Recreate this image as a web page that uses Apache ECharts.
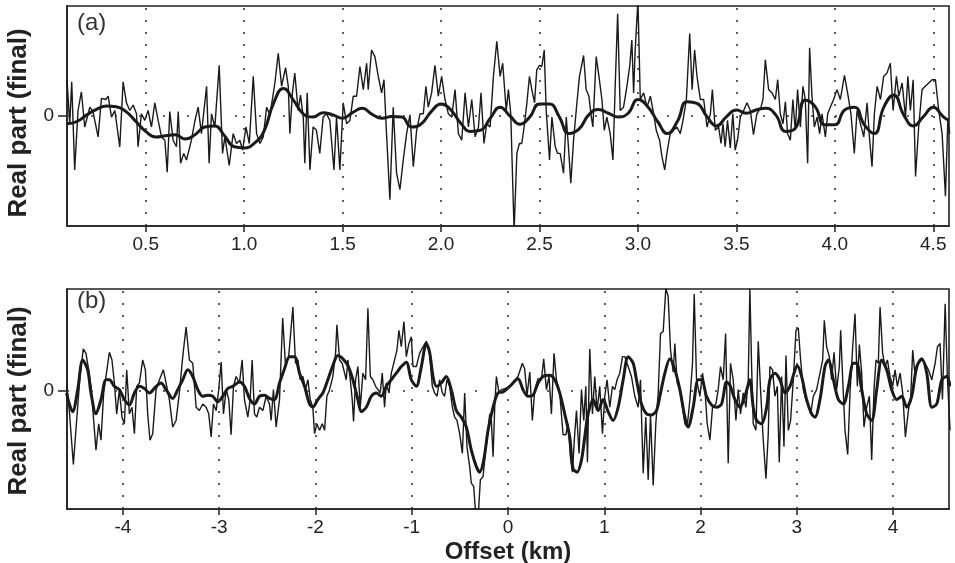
<!DOCTYPE html>
<html>
<head>
<meta charset="utf-8">
<script src="https://cdn.jsdelivr.net/npm/echarts@6/dist/echarts.min.js"></script>
<style>
  html, body { margin: 0; padding: 0; background: #fff; }
  #main { width: 955px; height: 563px; }
</style>
</head>
<body>
<div id="main"></div>
<script>
// tick labels
const topTicks = [0.5, 1.0, 1.5, 2.0, 2.5, 3.0, 3.5, 4.0, 4.5]
const botTicks = [-4, -3, -2, -1, 0, 1, 2, 3, 4]

// (a) thin line: [offset km, value]
const topThin = [
  [0.100,0.33],[0.114,-0.07],[0.124,0.31],[0.139,-0.49],[0.156,0.05],[0.173,0.22],[0.190,-0.10],[0.216,0.08],[0.232,0.04],[0.258,-0.19],
  [0.275,0.16],[0.297,0.15],[0.309,0.18],[0.326,-0.01],[0.343,0.05],[0.368,-0.28],[0.385,0.31],[0.402,0.12],[0.419,0.05],[0.436,0.10],
  [0.453,0.02],[0.461,-0.28],[0.478,0.02],[0.495,-0.04],[0.512,0.05],[0.529,-0.10],[0.546,0.12],[0.563,-0.04],[0.580,-0.19],[0.597,-0.22],
  [0.609,-0.51],[0.622,0.04],[0.639,-0.22],[0.656,-0.28],[0.665,0.04],[0.677,-0.43],[0.693,-0.34],[0.707,-0.40],[0.732,-0.22],[0.749,-0.05],
  [0.766,0.08],[0.783,-0.16],[0.809,0.27],[0.822,-0.43],[0.834,0.02],[0.851,-0.10],[0.873,0.46],[0.890,-0.34],[0.902,-0.19],[0.924,-0.45],
  [0.944,-0.16],[0.961,-0.25],[0.978,-0.22],[0.992,-0.31],[1.009,-0.10],[1.026,-0.25],[1.046,0.36],[1.063,-0.16],[1.080,-0.25],[1.097,-0.19],
  [1.114,0.08],[1.131,0.01],[1.156,0.30],[1.173,0.57],[1.190,0.27],[1.210,0.44],[1.224,0.27],[1.232,-0.16],[1.245,0.21],[1.257,0.39],
  [1.274,0.05],[1.286,0.19],[1.300,-0.01],[1.308,-0.43],[1.320,0.21],[1.334,-0.49],[1.350,-0.10],[1.367,-0.13],[1.384,-0.34],[1.401,-0.01],
  [1.418,0.02],[1.435,-0.04],[1.456,-0.49],[1.469,-0.01],[1.486,-0.49],[1.503,0.12],[1.520,-0.07],[1.537,-0.04],[1.554,0.18],[1.571,0.18],
  [1.588,0.45],[1.605,0.24],[1.622,0.48],[1.630,0.24],[1.647,0.60],[1.664,0.54],[1.681,0.36],[1.698,0.21],[1.710,0.33],[1.723,-0.16],
  [1.740,-0.76],[1.757,0.08],[1.774,-0.52],[1.791,-0.67],[1.808,-0.40],[1.825,-0.16],[1.842,0.01],[1.859,-0.46],[1.876,-0.13],[1.893,0.02],
  [1.910,0.02],[1.923,0.27],[1.935,0.08],[1.952,0.21],[1.969,0.46],[1.986,0.18],[2.003,0.36],[2.020,0.15],[2.037,0.02],[2.054,-0.01],
  [2.071,0.24],[2.088,-0.16],[2.105,-0.22],[2.122,0.21],[2.139,-0.10],[2.156,0.15],[2.173,-0.19],[2.190,-0.10],[2.203,0.21],[2.218,-0.25],
  [2.232,-0.07],[2.249,-0.10],[2.266,0.36],[2.283,0.68],[2.300,0.36],[2.313,0.48],[2.331,0.05],[2.342,0.24],[2.354,0.02],[2.371,-1.05],
  [2.385,-0.34],[2.398,-0.25],[2.410,-0.25],[2.422,-0.10],[2.436,0.12],[2.449,0.36],[2.461,0.24],[2.475,0.12],[2.486,0.42],[2.500,0.46],
  [2.512,0.45],[2.524,0.60],[2.534,0.05],[2.551,-0.40],[2.563,-0.01],[2.580,-0.28],[2.592,-0.34],[2.605,-0.34],[2.622,-0.52],[2.636,-0.01],
  [2.647,-0.28],[2.659,-0.61],[2.673,-0.22],[2.690,0.12],[2.703,0.36],[2.724,0.55],[2.737,0.24],[2.751,0.18],[2.761,0.02],[2.771,-0.10],
  [2.788,0.54],[2.802,0.36],[2.817,0.15],[2.829,-0.13],[2.842,-0.01],[2.859,-0.16],[2.873,-0.40],[2.885,0.30],[2.897,0.93],[2.910,0.05],
  [2.927,0.08],[2.944,0.27],[2.958,0.45],[2.969,0.69],[2.978,0.21],[2.986,0.60],[3.000,1.05],[3.012,0.15],[3.029,0.21],[3.046,0.08],
  [3.063,0.18],[3.080,0.02],[3.093,-0.13],[3.110,-0.22],[3.122,-0.37],[3.136,-0.49],[3.147,-0.34],[3.164,-0.16],[3.181,-0.13],[3.198,-0.10],
  [3.215,-0.16],[3.229,-0.04],[3.246,0.15],[3.263,0.75],[3.275,0.24],[3.288,0.60],[3.300,0.36],[3.317,0.15],[3.334,0.15],[3.351,-0.10],
  [3.368,0.02],[3.378,0.24],[3.393,-0.13],[3.410,-0.10],[3.422,-0.25],[3.432,-0.07],[3.443,-0.28],[3.455,-0.04],[3.469,-0.29],[3.482,0.02],
  [3.494,-0.31],[3.506,-0.22],[3.520,-0.01],[3.537,0.05],[3.554,0.12],[3.571,0.05],[3.587,-0.17],[3.604,0.02],[3.625,0.08],[3.635,0.15],
  [3.647,0.51],[3.664,0.24],[3.681,0.21],[3.698,0.15],[3.710,0.33],[3.723,0.02],[3.737,-0.07],[3.749,0.13],[3.760,-0.16],[3.774,-0.22],
  [3.787,0.15],[3.799,-0.13],[3.811,0.24],[3.825,-0.10],[3.838,0.27],[3.850,0.15],[3.862,-0.43],[3.872,0.62],[3.884,0.18],[3.896,-0.10],
  [3.910,-0.01],[3.923,-0.16],[3.935,0.02],[3.952,-0.19],[3.964,0.02],[3.977,0.08],[3.994,0.15],[4.011,0.24],[4.028,0.15],[4.049,0.37],
  [4.065,0.21],[4.082,0.02],[4.099,-0.34],[4.113,0.05],[4.130,-0.07],[4.147,-0.19],[4.164,0.12],[4.177,-0.22],[4.189,-0.46],[4.201,0.02],
  [4.215,0.27],[4.232,0.15],[4.248,0.36],[4.265,0.39],[4.282,0.48],[4.296,0.05],[4.313,0.36],[4.325,0.18],[4.342,0.30],[4.359,-0.01],
  [4.371,0.36],[4.384,0.05],[4.398,0.33],[4.410,-0.55],[4.426,-0.10],[4.443,0.24],[4.460,0.27],[4.477,0.30],[4.494,0.33],[4.511,0.33],
  [4.528,0.05],[4.545,-0.16],[4.562,-0.73],[4.574,-0.04],[4.584,-0.16]
]

// (a) thick line
const topThick = [
  [0.10,-0.07],[0.15,-0.05],[0.20,0.01],[0.25,0.06],[0.30,0.09],[0.35,0.085],[0.40,0.04],[0.45,-0.05],[0.50,-0.14],[0.55,-0.19],
  [0.60,-0.18],[0.65,-0.17],[0.70,-0.21],[0.75,-0.17],[0.80,-0.10],[0.85,-0.09],[0.90,-0.18],[0.95,-0.28],[1.00,-0.29],[1.05,-0.25],
  [1.10,-0.14],[1.15,0.12],[1.20,0.25],[1.25,0.145],[1.30,0.02],[1.35,-0.01],[1.40,0.03],[1.45,0.01],[1.50,-0.02],[1.55,0.03],
  [1.60,0.07],[1.65,0.015],[1.70,-0.02],[1.75,-0.005],[1.80,-0.01],[1.85,-0.10],[1.90,-0.07],[1.95,0.04],[2.00,0.11],[2.05,0.055],
  [2.10,-0.065],[2.15,-0.14],[2.20,-0.13],[2.25,-0.02],[2.30,0.08],[2.35,0.0],[2.40,-0.075],[2.45,-0.01],[2.50,0.11],[2.55,0.11],
  [2.60,-0.005],[2.65,-0.16],[2.70,-0.12],[2.75,0.01],[2.80,0.06],[2.85,0.025],[2.90,-0.01],[2.95,0.025],[3.00,0.15],[3.05,0.085],
  [3.10,-0.05],[3.15,-0.16],[3.20,-0.05],[3.25,0.13],[3.30,0.115],[3.35,-0.005],[3.40,-0.09],[3.45,-0.005],[3.50,0.055],[3.55,0.025],
  [3.60,0.055],[3.65,0.07],[3.70,0.01],[3.75,-0.14],[3.80,-0.11],[3.85,0.145],[3.90,0.085],[3.95,-0.08],[4.00,-0.08],[4.05,0.055],
  [4.10,0.08],[4.15,-0.08],[4.20,-0.16],[4.25,0.085],[4.30,0.19],[4.35,0.01],[4.40,-0.09],[4.45,-0.005],[4.50,0.08],[4.55,-0.005],
  [4.58,-0.04]
]

// (b) thin line
const botThin = [
  [-4.584,0.07],[-4.556,-0.18],[-4.514,-0.67],[-4.480,-0.27],[-4.445,0.13],[-4.411,0.38],[-4.383,0.34],[-4.355,0.19],[-4.331,0.04],[-4.303,-0.27],
  [-4.279,-0.54],[-4.251,-0.30],[-4.227,-0.45],[-4.199,-0.02],[-4.175,0.13],[-4.140,0.35],[-4.113,0.28],[-4.088,0.07],[-4.064,-0.21],[-4.036,0.01],
  [-4.009,-0.24],[-3.984,-0.30],[-3.960,0.19],[-3.932,-0.21],[-3.905,-0.15],[-3.880,-0.39],[-3.856,0.04],[-3.828,0.07],[-3.794,0.28],[-3.766,0.19],
  [-3.742,-0.21],[-3.718,-0.45],[-3.690,-0.39],[-3.655,0.01],[-3.620,0.10],[-3.579,0.19],[-3.551,0.07],[-3.517,-0.08],[-3.482,-0.33],[-3.447,-0.27],
  [-3.413,-0.02],[-3.378,0.31],[-3.343,0.58],[-3.309,0.28],[-3.274,0.25],[-3.239,-0.15],[-3.205,-0.18],[-3.170,-0.12],[-3.135,-0.15],[-3.108,-0.21],
  [-3.083,-0.42],[-3.059,-0.12],[-3.031,-0.18],[-3.004,0.01],[-2.979,0.26],[-2.955,-0.21],[-2.927,0.01],[-2.900,-0.08],[-2.876,-0.40],[-2.851,0.04],
  [-2.824,0.13],[-2.789,0.07],[-2.761,0.28],[-2.737,-0.08],[-2.702,-0.24],[-2.678,-0.08],[-2.657,0.28],[-2.633,-0.21],[-2.609,-0.24],[-2.581,-0.15],
  [-2.546,-0.18],[-2.512,-0.05],[-2.477,-0.12],[-2.460,-0.27],[-2.436,0.01],[-2.408,-0.33],[-2.373,-0.08],[-2.340,0.66],[-2.312,0.25],[-2.278,0.31],
  [-2.234,0.76],[-2.207,0.25],[-2.182,0.28],[-2.158,0.10],[-2.130,0.13],[-2.103,0.01],[-2.078,0.10],[-2.054,-0.08],[-2.027,-0.15],[-2.009,-0.39],
  [-1.985,-0.30],[-1.957,-0.36],[-1.929,-0.30],[-1.905,-0.36],[-1.881,-0.05],[-1.853,0.01],[-1.819,0.13],[-1.791,0.34],[-1.777,0.60],[-1.749,0.28],
  [-1.722,0.25],[-1.697,0.16],[-1.680,0.10],[-1.663,0.28],[-1.638,0.10],[-1.618,-0.08],[-1.604,-0.28],[-1.583,0.10],[-1.559,0.22],[-1.534,-0.15],
  [-1.507,0.16],[-1.479,0.10],[-1.455,0.75],[-1.430,0.13],[-1.403,0.10],[-1.375,0.04],[-1.351,0.01],[-1.327,-0.02],[-1.306,0.16],[-1.282,-0.15],
  [-1.264,0.07],[-1.236,-0.02],[-1.212,0.16],[-1.178,0.28],[-1.153,0.37],[-1.133,0.55],[-1.108,0.40],[-1.081,0.63],[-1.056,0.31],[-1.029,0.43],
  [-1.004,0.49],[-0.987,0.22],[-0.952,0.22],[-0.918,0.34],[-0.883,0.40],[-0.848,0.45],[-0.814,0.34],[-0.786,0.04],[-0.762,-0.02],[-0.737,-0.05],
  [-0.710,0.10],[-0.682,-0.02],[-0.658,-0.05],[-0.634,0.10],[-0.606,0.04],[-0.578,-0.15],[-0.554,-0.24],[-0.530,-0.27],[-0.502,-0.39],[-0.474,-0.57],
  [-0.450,-0.02],[-0.426,-0.51],[-0.398,-0.69],[-0.381,-0.84],[-0.356,-0.87],[-0.336,-1.12],[-0.308,-1.12],[-0.287,-0.81],[-0.259,-0.78],[-0.232,-0.54],
  [-0.207,-0.36],[-0.190,-0.21],[-0.173,-0.27],[-0.155,-0.60],[-0.138,-0.15],[-0.121,0.13],[-0.093,-0.02],[-0.069,0.01],[-0.034,0.02],[0.018,0.04],
  [0.104,0.13],[0.149,0.25],[0.173,0.20],[0.198,-0.04],[0.226,0.17],[0.253,-0.27],[0.278,0.01],[0.312,0.11],[0.347,0.10],[0.371,0.29],
  [0.399,0.01],[0.426,0.13],[0.451,-0.21],[0.478,0.34],[0.503,0.10],[0.537,-0.02],[0.572,-0.40],[0.600,-0.40],[0.624,-0.30],[0.648,-0.60],
  [0.669,-0.74],[0.693,-0.39],[0.711,-0.18],[0.738,-0.57],[0.763,0.01],[0.787,-0.27],[0.808,0.04],[0.825,-0.65],[0.849,0.38],[0.877,-0.21],
  [0.901,0.13],[0.925,-0.18],[0.953,0.04],[0.981,-0.39],[1.005,-0.05],[1.029,0.10],[1.057,-0.15],[1.085,0.04],[1.109,0.01],[1.133,0.10],
  [1.161,0.16],[1.189,0.31],[1.213,0.31],[1.248,0.22],[1.282,0.13],[1.317,-0.05],[1.352,-0.15],[1.376,0.10],[1.404,-0.75],[1.431,-0.24],
  [1.456,-0.81],[1.480,-0.22],[1.508,-0.86],[1.535,-0.30],[1.560,-0.02],[1.584,0.52],[1.612,0.54],[1.639,0.93],[1.663,0.86],[1.688,0.37],
  [1.716,0.17],[1.733,0.43],[1.757,0.07],[1.785,0.01],[1.812,-0.15],[1.837,-0.30],[1.861,-0.33],[1.889,-0.08],[1.916,0.25],[1.934,0.88],
  [1.958,0.10],[1.993,-0.05],[2.020,0.16],[2.045,0.01],[2.069,-0.30],[2.097,-0.45],[2.124,-0.15],[2.159,-0.12],[2.183,0.01],[2.207,0.22],
  [2.235,0.10],[2.260,0.52],[2.287,-0.66],[2.311,0.25],[2.339,0.10],[2.367,-0.27],[2.391,0.01],[2.415,-0.21],[2.443,-0.02],[2.471,-0.15],
  [2.495,0.10],[2.512,0.93],[2.530,0.22],[2.547,-0.30],[2.575,-0.36],[2.599,0.45],[2.623,0.01],[2.651,-0.45],[2.679,-0.80],[2.703,-0.39],
  [2.720,0.22],[2.748,0.19],[2.772,-0.05],[2.797,0.04],[2.817,-0.65],[2.842,0.13],[2.866,-0.51],[2.887,0.32],[2.911,-0.36],[2.935,-0.27],
  [2.963,0.10],[2.991,0.55],[3.015,0.57],[3.039,0.28],[3.067,0.01],[3.094,-0.08],[3.119,-0.12],[3.143,-0.21],[3.171,-0.05],[3.205,0.01],
  [3.240,0.16],[3.268,0.28],[3.285,0.64],[3.309,0.40],[3.337,0.31],[3.361,0.10],[3.386,0.35],[3.413,0.01],[3.441,0.22],[3.455,0.55],
  [3.476,0.10],[3.500,-0.36],[3.528,-0.58],[3.552,-0.02],[3.580,0.40],[3.604,0.70],[3.628,0.04],[3.649,0.42],[3.673,0.16],[3.697,-0.33],
  [3.725,-0.15],[3.753,-0.05],[3.777,-0.63],[3.801,0.01],[3.822,0.28],[3.846,0.25],[3.864,0.76],[3.891,0.34],[3.916,0.22],[3.940,0.28],
  [3.968,0.13],[3.995,0.04],[4.020,0.19],[4.044,0.04],[4.072,0.16],[4.099,-0.02],[4.127,-0.42],[4.158,-0.18],[4.183,-0.05],[4.203,0.37],
  [4.228,0.13],[4.262,0.25],[4.297,0.28],[4.332,0.25],[4.366,0.19],[4.401,0.10],[4.436,0.25],[4.460,0.40],[4.487,0.43],[4.512,-0.08],
  [4.540,0.79],[4.564,0.10],[4.591,-0.36]
]

// (b) thick line
const botThick = [
  [-4.584,-0.02],[-4.556,-0.12],[-4.521,-0.19],[-4.469,0.01],[-4.417,0.28],[-4.365,0.19],[-4.331,-0.02],[-4.279,-0.21],[-4.227,-0.08],[-4.175,0.10],
  [-4.140,0.10],[-4.088,0.04],[-4.036,0.01],[-3.984,-0.08],[-3.932,-0.13],[-3.880,-0.02],[-3.828,0.04],[-3.776,0.02],[-3.724,-0.02],[-3.655,0.04],
  [-3.603,0.07],[-3.551,0.01],[-3.482,-0.07],[-3.430,0.01],[-3.378,0.10],[-3.326,0.19],[-3.274,0.13],[-3.222,0.01],[-3.170,-0.05],[-3.118,-0.04],
  [-3.066,-0.05],[-3.014,-0.10],[-2.962,-0.05],[-2.910,0.02],[-2.858,0.04],[-2.789,0.08],[-2.737,0.04],[-2.685,-0.07],[-2.633,-0.12],[-2.581,-0.05],
  [-2.529,-0.04],[-2.477,-0.07],[-2.425,-0.08],[-2.373,0.07],[-2.321,0.20],[-2.269,0.31],[-2.217,0.31],[-2.165,0.16],[-2.113,0.04],[-2.061,-0.12],
  [-2.027,-0.15],[-1.975,-0.08],[-1.923,-0.02],[-1.871,0.10],[-1.819,0.23],[-1.767,0.32],[-1.715,0.29],[-1.663,0.23],[-1.611,0.10],[-1.559,-0.08],
  [-1.524,-0.19],[-1.472,-0.15],[-1.420,-0.05],[-1.368,-0.02],[-1.316,-0.05],[-1.264,0.04],[-1.212,0.10],[-1.160,0.16],[-1.108,0.22],[-1.056,0.26],
  [-1.004,0.10],[-0.952,0.04],[-0.900,0.22],[-0.848,0.43],[-0.814,0.35],[-0.779,0.13],[-0.744,0.04],[-0.693,0.07],[-0.641,0.13],[-0.589,0.01],
  [-0.537,-0.18],[-0.485,-0.24],[-0.433,-0.33],[-0.381,-0.54],[-0.329,-0.69],[-0.294,-0.74],[-0.252,-0.63],[-0.207,-0.36],[-0.155,-0.15],[-0.104,-0.02],
  [-0.052,-0.01],[0.018,0.04],[0.104,0.11],[0.156,0.01],[0.208,-0.05],[0.260,-0.04],[0.312,0.07],[0.364,0.13],[0.433,0.14],[0.485,0.10],
  [0.537,-0.02],[0.589,-0.21],[0.641,-0.42],[0.676,-0.71],[0.718,-0.74],[0.763,-0.63],[0.797,-0.42],[0.832,-0.21],[0.884,-0.08],[0.936,-0.18],
  [0.988,-0.08],[1.040,-0.19],[1.092,-0.27],[1.144,-0.15],[1.196,0.10],[1.248,0.31],[1.300,0.25],[1.334,0.10],[1.386,-0.12],[1.438,-0.21],
  [1.490,-0.22],[1.542,-0.18],[1.577,-0.05],[1.629,0.16],[1.681,0.29],[1.733,0.19],[1.785,0.01],[1.837,-0.24],[1.871,-0.33],[1.923,-0.15],
  [1.975,0.10],[2.010,0.10],[2.062,-0.05],[2.114,-0.13],[2.166,-0.15],[2.218,-0.12],[2.270,0.08],[2.305,0.05],[2.357,-0.08],[2.409,-0.15],
  [2.461,-0.05],[2.512,0.10],[2.547,-0.15],[2.582,-0.27],[2.634,-0.30],[2.686,-0.15],[2.720,0.10],[2.772,0.16],[2.824,0.10],[2.876,-0.02],
  [2.928,0.04],[2.970,0.16],[3.004,0.23],[3.049,0.13],[3.101,-0.08],[3.153,-0.21],[3.188,-0.24],[3.240,-0.08],[3.292,0.22],[3.327,0.28],
  [3.379,0.10],[3.431,-0.08],[3.483,-0.12],[3.535,0.04],[3.587,0.25],[3.621,0.25],[3.673,0.01],[3.725,-0.21],[3.777,-0.27],[3.829,0.01],
  [3.881,0.28],[3.933,0.19],[3.985,0.01],[4.037,-0.08],[4.089,-0.05],[4.141,-0.15],[4.193,-0.05],[4.245,0.22],[4.297,0.29],[4.349,0.16],
  [4.401,-0.15],[4.453,-0.12],[4.505,0.10],[4.557,0.13],[4.591,0.04]
]

const FONT = 'Liberation Sans, Arial, sans-serif'
const INK = '#1a1a1a'

function dotLines(ticks) {
    let arr = ticks.map(v => ({ xAxis: v }))
    arr.push({ yAxis: 0, lineStyle: { type: [2, 22], width: 1.6, color: '#333' } })
    return arr
}

function xAxisOf(idx, min, max, ticks, fmt) {
    return {
        type: 'value', gridIndex: idx, min: min, max: max,
        axisLine: { show: true, onZero: false, lineStyle: { color: '#222', width: 1.6 } },
        axisTick: { customValues: ticks, length: 6, lineStyle: { color: '#222', width: 1.5 } },
        axisLabel: { customValues: ticks, formatter: fmt, fontSize: 19, color: '#222', margin: 9, fontFamily: FONT },
        splitLine: { show: false }
    }
}

function yAxisOf(idx, min, max, pad) {
    return {
        type: 'value', gridIndex: idx, min: min, max: max,
        name: 'Real part (final)', nameLocation: 'middle', nameGap: 35,
        nameTextStyle: { fontSize: 26, fontWeight: 'bold', color: '#222', fontFamily: FONT, padding: pad },
        axisLine: { show: true, onZero: false, lineStyle: { color: '#222', width: 1.6 } },
        axisTick: { customValues: [0], length: 9, lineStyle: { color: '#222', width: 1.5 } },
        axisLabel: { customValues: [0], fontSize: 19, color: '#222', margin: 13, fontFamily: FONT },
        splitLine: { show: false }
    }
}

var myChart = echarts.init(document.getElementById('main'))

var option = {
    animation: false,
    backgroundColor: '#fff',
    grid: [
        { left: 67, top: 6, width: 882, height: 220, show: true, borderColor: '#222', borderWidth: 1.6, outerBoundsMode: 'none', containLabel: false },
        { left: 67, top: 289, width: 882, height: 220, show: true, borderColor: '#222', borderWidth: 1.6, outerBoundsMode: 'none', containLabel: false }
    ],
    xAxis: [
        xAxisOf(0, 0.1, 4.58, topTicks, v => v.toFixed(1)),
        Object.assign(xAxisOf(1, -4.58, 4.58, botTicks, v => String(v)), {
            name: 'Offset (km)', nameLocation: 'middle', nameGap: 31,
            nameTextStyle: { fontSize: 24, fontWeight: 'bold', color: '#222', fontFamily: FONT }
        })
    ],
    yAxis: [
        yAxisOf(0, -1, 1, [0, 14, 0, 0]),
        yAxisOf(1, -1.075, 0.925, [0, 4, 0, 0])
    ],
    graphic: [
        { type: 'text', left: 77, top: 11, style: { text: '(a)', fontSize: 24, fill: '#333', fontFamily: FONT } },
        { type: 'text', left: 77, top: 289, style: { text: '(b)', fontSize: 24, fill: '#333', fontFamily: FONT } }
    ],
    series: [
        {
            type: 'line', xAxisIndex: 0, yAxisIndex: 0, data: topThin, showSymbol: false,
            lineStyle: { color: INK, width: 1.4 },
            markLine: {
                silent: true, symbol: 'none', label: { show: false },
                lineStyle: { type: [2, 10], width: 1.6, color: '#333' },
                data: dotLines(topTicks)
            }
        },
        {
            type: 'line', xAxisIndex: 0, yAxisIndex: 0, data: topThick, showSymbol: false, smooth: 0.5,
            lineStyle: { color: INK, width: 3 }
        },
        {
            type: 'line', xAxisIndex: 1, yAxisIndex: 1, data: botThin, showSymbol: false,
            lineStyle: { color: INK, width: 1.4 },
            markLine: {
                silent: true, symbol: 'none', label: { show: false },
                lineStyle: { type: [2, 10], width: 1.6, color: '#333' },
                data: dotLines(botTicks)
            }
        },
        {
            type: 'line', xAxisIndex: 1, yAxisIndex: 1, data: botThick, showSymbol: false, smooth: 0.3,
            lineStyle: { color: INK, width: 3 }
        }
    ]
}

myChart.setOption(option)
</script>
</body>
</html>
